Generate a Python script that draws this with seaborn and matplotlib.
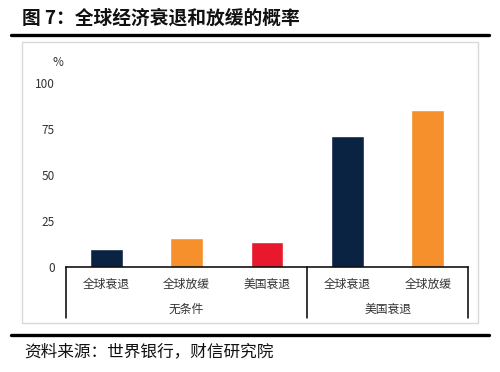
import matplotlib
matplotlib.use("Agg")
import matplotlib.pyplot as plt
import seaborn as sns
import pandas as pd
from matplotlib.patches import Rectangle
from matplotlib.lines import Line2D

# ---- data ----
categories = ["全球衰退", "全球放缓", "美国衰退", "全球衰退", "全球放缓"]
groups = ["无条件", "美国衰退"]
group_sizes = [3, 2]
values = [9.7, 15.5, 13.7, 71, 85.5]
yticks = [0, 25, 50, 75, 100]
title = "图 7：全球经济衰退和放缓的概率"
source = "资料来源：世界银行，财信研究院"
colors = ["#0b2343", "#f5902c", "#e8192c", "#0b2343", "#f5902c"]

sns.set_theme(style="white")
plt.rcParams["font.family"] = ["Noto Sans CJK SC", "DejaVu Sans"]

W, H = 500, 372
fig = plt.figure(figsize=(W / 100, H / 100), dpi=100)

def fx(px):
    return px / W

def fy(py):
    return 1 - py / H

# frame elements
fig.add_artist(Rectangle((fx(22), fy(323)), fx(478) - fx(22), fy(42) - fy(323),
                         transform=fig.transFigure, fill=False, edgecolor="#d9d9d9", lw=1.0))
for yy in (35, 335):
    fig.add_artist(Line2D([fx(11), fx(489)], [fy(yy), fy(yy)], transform=fig.transFigure,
                          color="black", lw=2.4))

fig.text(fx(22), fy(18), title, fontsize=13.5, fontweight="bold", va="center", ha="left",
         color="#111111")
fig.text(fx(24), fy(352), source, fontsize=12, va="center", ha="left", color="#111111",
         style="italic")

# axes
left, right, top, bottom = 66, 468, 83.3, 266.7
ax = fig.add_axes([fx(left), fy(bottom), fx(right) - fx(left), fy(top) - fy(bottom)])

ids = [str(i) for i in range(len(categories))]
df = pd.DataFrame({"id": ids, "value": values})
sns.barplot(data=df, x="id", y="value", hue="id", palette=colors, legend=False,
            width=0.41, ax=ax, saturation=1)

ax.set_xlim(-0.5, len(categories) - 0.5)
ax.set_ylim(0, 100)
ax.set_yticks(yticks)
ax.set_yticklabels([str(t) for t in yticks])
ax.set_xticks(range(len(categories)))
ax.set_xticklabels(categories)
ax.set_xlabel("")
ax.set_ylabel("")
ax.tick_params(axis="y", length=0, pad=8, labelsize=8.5, labelcolor="#333333")
ax.tick_params(axis="x", length=0, pad=8, labelsize=8.5, labelcolor="#333333")
for s in ["top", "right", "left"]:
    ax.spines[s].set_visible(False)
ax.spines["bottom"].set_color("black")
ax.spines["bottom"].set_linewidth(1.1)
ax.grid(False)

# category box lines
trans = ax.get_xaxis_transform()
ybot = -(318 - bottom) / (bottom - top)
bounds = [-0.5]
acc = -0.5
for g in group_sizes:
    acc += g
    bounds.append(acc)
for b in bounds:
    ax.plot([b, b], [0, ybot], transform=trans, color="black", lw=1.1, clip_on=False)

# group labels
ygrp = -(309.5 - bottom) / (bottom - top)
start = 0
for g, n in zip(groups, group_sizes):
    center = start + (n - 1) / 2
    ax.text(center, ygrp, g, transform=trans, ha="center", va="center", fontsize=8.5,
            color="#333333")
    start += n

# % unit label
fig.text(fx(58), fy(63), "%", fontsize=8.5, ha="center", va="center", color="#333333")

fig.savefig("out.png", dpi=100)
